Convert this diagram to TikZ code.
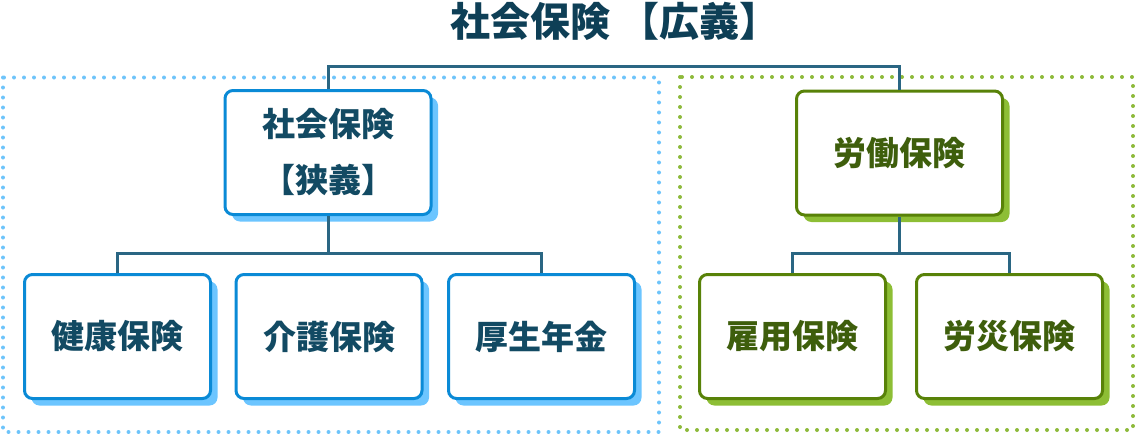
\documentclass[tikz,border=0pt]{standalone}
\usepackage{fontspec}
\newfontfamily\jp{Noto Sans CJK JP}
\usepackage{xcolor}
\definecolor{Titleblue}{HTML}{0E3F56}
\definecolor{Textblue}{HTML}{124A63}
\definecolor{Linkblue}{HTML}{2A6683}
\definecolor{Boxblue}{HTML}{0A8AD6}
\definecolor{Shadowblue}{HTML}{6CC5FF}
\definecolor{Dotblue}{HTML}{6EC4FA}
\definecolor{Boxgreen}{HTML}{588208}
\definecolor{Shadowgreen}{HTML}{8DBE35}
\definecolor{Textgreen}{HTML}{3E5E0C}
\definecolor{Dotgreen}{HTML}{8DB93A}
\usepackage{tikz}
\usetikzlibrary{shadows,positioning}
\tikzstyle{box} = [
    rectangle,
    rounded corners=8pt,
    line width=3pt,
    fill=white,
    minimum width=186pt,
    minimum height=124pt,
    align=center,
    font=\jp\bfseries\fontsize{33}{56}\selectfont
]
\tikzstyle{bluebox} = [
    box,
    draw=Boxblue,
    text=Textblue,
    drop shadow={shadow xshift=7pt, shadow yshift=-7pt, fill=Shadowblue, opacity=1}
]
\tikzstyle{greenbox} = [
    box,
    draw=Boxgreen,
    text=Textgreen,
    drop shadow={shadow xshift=7pt, shadow yshift=-7pt, fill=Shadowgreen, opacity=1}
]
\tikzstyle{headbox} = [
    minimum width=206pt
]
\tikzstyle{link} = [
    line width=3pt,
    Linkblue
]
\tikzstyle{frame} = [
    line width=4pt,
    line cap=round,
    dash pattern=on 0pt off 10pt
]

\begin{document}
\begin{tikzpicture}[x=1pt,y=-1pt]
    \useasboundingbox (0,0) rectangle (1136,434);
    % Frames
    \draw[frame, Dotblue] (3,77.5) rectangle (659,432);
    \draw[frame, Dotgreen] (680,77) rectangle (1133,430);
    % Title
    \node[Titleblue, font=\jp\bfseries\fontsize{40}{44}\selectfont] (title) at (615,21) {社会保険 【広義】};
    % Social insurance
    \node[bluebox, headbox] (shakai) at (328,152.5) {社会保険\\【狭義】};
    \node[bluebox] (kenko) at (117.5,336.5) {健康保険};
    \node[bluebox] (kaigo) at (329,336.5) {介護保険};
    \node[bluebox] (kosei) at (541.5,336.5) {厚生年金};
    % Labour insurance
    \node[greenbox, headbox] (rodo) at (899.5,153) {労働保険};
    \node[greenbox] (koyo) at (792.5,336.5) {雇用保険};
    \node[greenbox] (rosai) at (1009.5,336.5) {労災保険};
    % Links
    \coordinate (top) at (613,66);
    \draw[link] (shakai.north) |- (top) -| (rodo.north);
    \draw[link] (kenko.north) -- ++(0,-20) coordinate (shakaij) -| (kosei.north);
    \draw[link] (shakai.south) -- (shakai.south |- shakaij);
    \draw[link] (koyo.north) -- ++(0,-20) coordinate (rodoj) -| (rosai.north);
    \draw[link] (rodo.south) -- (rodo.south |- rodoj);
\end{tikzpicture}
\end{document}
